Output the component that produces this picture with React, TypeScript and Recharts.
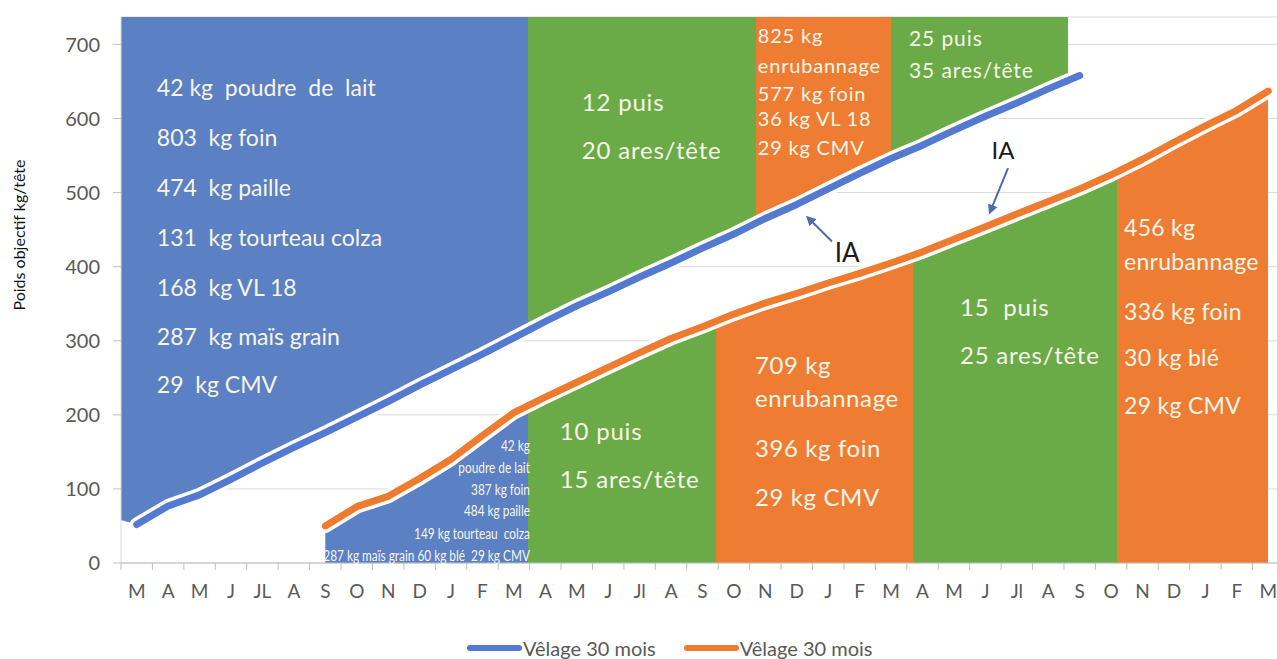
import React from 'react';
import {
  ComposedChart,
  Area,
  Line,
  XAxis,
  YAxis,
  CartesianGrid,
  ReferenceDot,
  ReferenceLine,
  Legend,
} from 'recharts';

// ---------- data ----------
const MONTHS = ['M', 'A', 'M', 'J', 'JL', 'A', 'S', 'O', 'N', 'D', 'J', 'F', 'M', 'A', 'M', 'J', 'Jl', 'A', 'S', 'O', 'N', 'D', 'J', 'F', 'M', 'A', 'M', 'J', 'Jl', 'A', 'S', 'O', 'N', 'D', 'J', 'F', 'M'];
const Y_TICKS = [0, 100, 200, 300, 400, 500, 600, 700];
const Y_TOP = 737;

// blue series (months 0..30)
const BLUE_START = 0;
const BLUE_WEIGHTS = [52, 77, 92, 113, 135, 156, 176, 197, 218, 240, 261, 282, 304, 326, 347, 366, 386, 405, 425, 444, 465, 484, 505, 526, 546, 564, 584, 603, 621, 640, 658];
// orange series (months 6..36)
const ORANGE_START = 6;
const ORANGE_WEIGHTS = [50, 76, 90, 114, 140, 172, 203, 224, 244, 264, 284, 303, 319, 336, 351, 364, 378, 391, 405, 420, 437, 454, 471, 488, 505, 524, 545, 568, 590, 611, 637];
const UPPER_LEFT_EDGE = 58; // bottom of the upper blue block at the left edge of the plot

const SERIES_NAMES = ['Vêlage 30 mois', 'Vêlage 30 mois'];

// colours
const BLUE_FILL = '#5b80c3';
const GREEN_FILL = '#6aab47';
const ORANGE_FILL = '#ee7d33';
const BLUE_LINE = '#5479d0';
const ORANGE_LINE = '#ef7b2f';
const TEXT_ON = '#f7f5e9';
const ARROW = '#4d6ca8';

// period blocks (month index ranges)
const UPPER_BLOCKS = [
  { from: -0.5, to: 12.45, color: BLUE_FILL },
  { from: 12.45, to: 19.7, color: GREEN_FILL },
  { from: 19.7, to: 24.0, color: ORANGE_FILL },
  { from: 24.0, to: 29.62, color: GREEN_FILL },
];
const LOWER_BLOCKS = [
  { from: 5.9, to: 12.45, color: BLUE_FILL },
  { from: 12.45, to: 18.43, color: GREEN_FILL },
  { from: 18.43, to: 24.7, color: ORANGE_FILL },
  { from: 24.7, to: 31.2, color: GREEN_FILL },
  { from: 31.2, to: 36, color: ORANGE_FILL },
];

type Note = {
  x: number;
  y: number;
  lines: string[];
  offs: number[];
  size: number;
  anchor?: 'start' | 'middle' | 'end';
  squeeze?: number;
  color?: string;
  ls?: number;
};

const NOTES: Note[] = [
  { x: 0.64, y: 642.6, size: 23, offs: [0, 50, 100, 150, 200, 249, 297],
    lines: ['42 kg  poudre  de  lait', '803  kg foin', '474  kg paille', '131  kg tourteau colza', '168  kg VL 18', '287  kg maïs grain', '29  kg CMV'] },
  { x: 14.16, y: 622.3, size: 24, ls: 0.8, offs: [0, 48], lines: ['12 puis', '20 ares/tête'] },
  { x: 19.76, y: 712.7, size: 20, ls: 0.8, offs: [0, 30, 58, 83, 112],
    lines: ['825 kg', 'enrubannage', '577 kg foin', '36 kg VL 18', '29 kg CMV'] },
  { x: 24.57, y: 708.7, size: 21, ls: 0.9, offs: [0, 32], lines: ['25 puis', '35 ares/tête'] },
  { x: 12.51, y: 159.3, size: 16, anchor: 'end', squeeze: 0.74, offs: [0, 22, 44, 65, 88, 110],
    lines: ['42 kg', 'poudre de lait', '387 kg foin', '484 kg paille', '149 kg tourteau  colza', '287 kg maïs grain 60 kg blé  29 kg CMV'] },
  { x: 13.46, y: 178.2, size: 24, ls: 0.8, offs: [0, 48], lines: ['10 puis', '15 ares/tête'] },
  { x: 19.67, y: 267.3, size: 24, ls: 0.6, offs: [0, 33, 83, 132], lines: ['709 kg', 'enrubannage', '396 kg foin', '29 kg CMV'] },
  { x: 26.19, y: 345.6, size: 24, ls: 0.8, offs: [0, 48], lines: ['15  puis', '25 ares/tête'] },
  { x: 31.41, y: 453.6, size: 23, ls: 0.3, offs: [0, 34, 84, 130, 178],
    lines: ['456 kg', 'enrubannage', '336 kg foin', '30 kg blé', '29 kg CMV'] },
  { x: 22.6, y: 419.8, size: 26, anchor: 'middle', color: '#1a1a1a', offs: [0], lines: ['IA'] },
  { x: 27.56, y: 557.5, size: 24, anchor: 'middle', color: '#1a1a1a', offs: [0], lines: ['IA'] },
];

const ARROWS = [
  [{ x: 22.12, y: 434 }, { x: 21.36, y: 466 }],
  [{ x: 27.72, y: 533 }, { x: 27.15, y: 474 }],
];

// ---------- derived tables ----------
const blueData = BLUE_WEIGHTS.map((v, i) => ({ m: BLUE_START + i, v }));
const upperData = [{ m: -0.5, v: UPPER_LEFT_EDGE }, ...blueData];
const orangeData = ORANGE_WEIGHTS.map((v, i) => ({ m: ORANGE_START + i, v }));
const MONTH_TICKS = MONTHS.map((_, i) => i);
const X_DOMAIN: [number, number] = [-0.5, MONTHS.length - 0.5];

function gradientStops(blocks: { from: number; to: number; color: string }[], x0: number, x1: number) {
  const f = (x: number) => Math.min(1, Math.max(0, (x - x0) / (x1 - x0)));
  const out: { off: number; color: string; op: number }[] = [];
  out.push({ off: 0, color: '#ffffff', op: 0 });
  blocks.forEach((b) => {
    out.push({ off: f(b.from), color: '#ffffff', op: 0 });
    out.push({ off: f(b.from), color: b.color, op: 1 });
    out.push({ off: f(b.to), color: b.color, op: 1 });
    out.push({ off: f(b.to), color: '#ffffff', op: 0 });
  });
  out.push({ off: 1, color: '#ffffff', op: 0 });
  return out;
}

const upperStops = gradientStops(UPPER_BLOCKS, upperData[0].m, upperData[upperData.length - 1].m);
const lowerStops = gradientStops(LOWER_BLOCKS, orangeData[0].m, orangeData[orangeData.length - 1].m);

const noteShape = (n: Note) => (p: any) => {
  const cx = p.cx;
  const cy = p.cy;
  const tf = n.squeeze ? `translate(${cx} 0) scale(${n.squeeze} 1) translate(${-cx} 0)` : undefined;
  return (
    <g transform={tf}>
      {n.lines.map((t, i) => (
        <text
          key={i}
          x={cx}
          y={cy + n.offs[i]}
          fill={n.color ?? TEXT_ON}
          fontSize={n.size}
          textAnchor={n.anchor ?? 'start'}
          dominantBaseline="central"
          letterSpacing={n.ls ?? 0}
          style={{ whiteSpace: 'pre', fontFamily: 'Lato' }}
        >
          {t}
        </text>
      ))}
    </g>
  );
};

const arrowShape = (p: any) => (
  <line x1={p.x1} y1={p.y1} x2={p.x2} y2={p.y2} stroke={ARROW} strokeWidth={2} markerEnd="url(#arrowHead)" />
);

// month label centred on its band, with a tick mark on the band's left boundary
const MonthTick = (p: any) => {
  const axisWidth = typeof p.width === 'number' && p.width > 100 ? p.width : 1163;
  const half = axisWidth / (X_DOMAIN[1] - X_DOMAIN[0]) / 2;
  const v = p.payload?.value ?? 0;
  const last = v === MONTHS.length - 1;
  return (
    <g>
      <line x1={p.x - half} x2={p.x - half} y1={p.y} y2={p.y + 7} stroke="#bfbfbf" />
      {last && <line x1={p.x + half} x2={p.x + half} y1={p.y} y2={p.y + 7} stroke="#bfbfbf" />}
      <text x={p.x} y={p.y + 22} dy="0.71em" textAnchor="middle" fill="#595959" fontSize={19} style={{ fontFamily: 'Lato' }}>
        {MONTHS[v] ?? ''}
      </text>
    </g>
  );
};

const renderLegend = () => (
  <div style={{ display: 'flex', alignItems: 'center', fontFamily: 'Lato' }}>
    {[BLUE_LINE, ORANGE_LINE].map((c, i) => (
      <div key={i} style={{ display: 'flex', alignItems: 'center', marginRight: 28 }}>
        <span style={{ display: 'inline-block', width: 55, height: 6, borderRadius: 3, background: c }} />
        <span style={{ fontSize: 20, color: '#595959', marginLeft: 1 }}>{SERIES_NAMES[i]}</span>
      </div>
    ))}
  </div>
);

export default function App() {
  return (
    <div
      style={{
        position: 'absolute',
        left: 0,
        top: 0,
        width: 1277,
        height: 659,
        overflow: 'hidden',
        background: '#ffffff',
        fontFamily: 'Lato',
      }}
    >
      <ComposedChart width={1290} height={659} margin={{ top: 17, right: 6, bottom: 65, left: 0 }}>
        <defs>
          <linearGradient id="gUp" x1="0" y1="0" x2="1" y2="0">
            {upperStops.map((s, i) => (
              <stop key={i} offset={s.off} stopColor={s.color} stopOpacity={s.op} />
            ))}
          </linearGradient>
          <linearGradient id="gLow" x1="0" y1="0" x2="1" y2="0">
            {lowerStops.map((s, i) => (
              <stop key={i} offset={s.off} stopColor={s.color} stopOpacity={s.op} />
            ))}
          </linearGradient>
          <marker id="arrowHead" viewBox="0 0 10 10" refX="7" refY="5" markerWidth="5" markerHeight="5" orient="auto">
            <path d="M0,0 L10,5 L0,10 z" fill={ARROW} />
          </marker>
        </defs>
        <CartesianGrid vertical={false} stroke="#d9d9d9" />
        <XAxis
          dataKey="m"
          type="number"
          domain={X_DOMAIN}
          ticks={MONTH_TICKS}
          interval={0}
          height={31}
          tick={MonthTick}
          tickSize={0}
          tickMargin={0}
          tickLine={false}
          axisLine={{ stroke: '#bfbfbf' }}
        />
        <YAxis
          type="number"
          domain={[0, Y_TOP]}
          ticks={Y_TICKS}
          width={121}
          tick={{ fill: '#595959', fontSize: 20, fontFamily: 'Lato' }}
          tickSize={8}
          tickMargin={13}
          tickLine={{ stroke: '#bfbfbf' }}
          axisLine={{ stroke: '#d9d9d9' }}
        />
        <Area data={orangeData} dataKey="v" type="linear" fill="url(#gLow)" fillOpacity={1} stroke="none" isAnimationActive={false} legendType="none" activeDot={false} />
        <Area data={upperData} dataKey="v" baseValue={Y_TOP} type="linear" fill="url(#gUp)" fillOpacity={1} stroke="none" isAnimationActive={false} legendType="none" activeDot={false} />
        <Line data={blueData} dataKey="v" type="linear" stroke="#ffffff" strokeWidth={14} dot={false} activeDot={false} legendType="none" isAnimationActive={false} strokeLinecap="round" strokeLinejoin="round" />
        <Line data={orangeData} dataKey="v" type="linear" stroke="#ffffff" strokeWidth={14} dot={false} activeDot={false} legendType="none" isAnimationActive={false} strokeLinecap="round" strokeLinejoin="round" />
        <Line data={blueData} dataKey="v" name={SERIES_NAMES[0]} type="linear" stroke={BLUE_LINE} strokeWidth={7} dot={false} activeDot={false} isAnimationActive={false} strokeLinecap="round" strokeLinejoin="round" />
        <Line data={orangeData} dataKey="v" name={SERIES_NAMES[1]} type="linear" stroke={ORANGE_LINE} strokeWidth={7} dot={false} activeDot={false} isAnimationActive={false} strokeLinecap="round" strokeLinejoin="round" />
        {ARROWS.map((seg, i) => (
          <ReferenceLine key={`a${i}`} segment={seg} stroke={ARROW} strokeWidth={2} shape={arrowShape} ifOverflow="visible" />
        ))}
        {NOTES.map((n, i) => (
          <ReferenceDot key={`n${i}`} x={n.x} y={n.y} r={0} shape={noteShape(n)} ifOverflow="visible" />
        ))}
        <Legend
          verticalAlign="middle"
          align="center"
          layout="horizontal"
          wrapperStyle={{ top: 636, left: 467, width: 520, height: 26 }}
          content={renderLegend}
        />
      </ComposedChart>
      <div
        style={{
          position: 'absolute',
          left: 18,
          top: 235,
          transform: 'translate(-50%, -50%) rotate(-90deg)',
          whiteSpace: 'nowrap',
          fontSize: 16,
          color: '#111111',
          fontFamily: 'Lato',
        }}
      >
        Poids objectif kg/tête
      </div>
    </div>
  );
}
